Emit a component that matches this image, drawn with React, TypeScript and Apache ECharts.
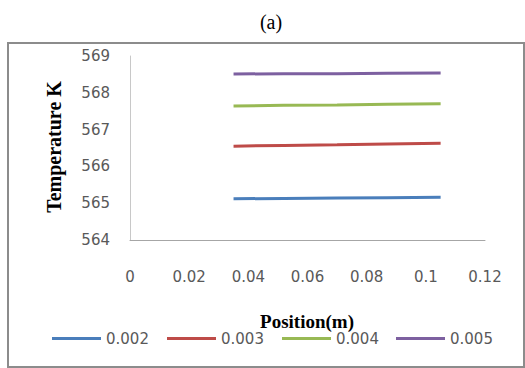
import React, { useEffect, useRef } from "react";
import * as echarts from "echarts";

const positions = [0.035, 0.052, 0.07, 0.087, 0.105];
const seriesNames = ["0.002", "0.003", "0.004", "0.005"];
const temp002 = [565.12, 565.13, 565.14, 565.15, 565.16];
const temp003 = [566.55, 566.57, 566.59, 566.61, 566.63];
const temp004 = [567.64, 567.66, 567.67, 567.69, 567.7];
const temp005 = [568.51, 568.52, 568.52, 568.53, 568.54];
const seriesColors = ["#4a7ebb", "#be4b48", "#98b954", "#7d60a0"];
const legendLeft = [52, 167, 282, 396];

export default function App() {
  const ref = useRef<HTMLDivElement>(null);
  useEffect(() => {
    if (!ref.current) return;
    const chart = echarts.init(ref.current, null, { renderer: "svg" });
    const all = [temp002, temp003, temp004, temp005];
    const labelStyle = {
      color: "#595959",
      fontFamily: "DejaVu Sans",
      fontSize: 15,
    };
    chart.setOption({
      animation: false,
      backgroundColor: "#ffffff",
      grid: { left: 130, right: 40, top: 56, bottom: 128 },
      xAxis: {
        type: "value",
        min: 0,
        max: 0.12,
        interval: 0.02,
        axisLine: { show: true, lineStyle: { color: "#a6a6a6", width: 1 } },
        axisTick: { show: false },
        splitLine: { show: false },
        axisLabel: { ...labelStyle, margin: 29, formatter: (v: number) => String(+v.toFixed(2)) },
      },
      yAxis: {
        type: "value",
        min: 564,
        max: 569,
        interval: 1,
        axisLine: { show: true, lineStyle: { color: "#c8c8c8", width: 1 } },
        axisTick: { show: false },
        splitLine: { show: false },
        axisLabel: { ...labelStyle, margin: 20 },
      },
      legend: seriesNames.map((n, i) => ({
        data: [{ name: n, icon: "rect" }],
        left: legendLeft[i],
        top: 331,
        padding: 0,
        itemWidth: 49,
        itemHeight: 3,
        textStyle: { ...labelStyle },
      })),
      series: all.map((vals, i) => ({
        name: seriesNames[i],
        type: "line",
        symbol: "none",
        smooth: false,
        lineStyle: { color: seriesColors[i], width: 3 },
        itemStyle: { color: seriesColors[i] },
        data: positions.map((p, j) => [p, vals[j]]),
      })),
      graphic: [
        {
          type: "rect",
          shape: { x: 8, y: 43, width: 516, height: 324 },
          style: { fill: "none", stroke: "#8c8c8c", lineWidth: 2 },
          silent: true,
        },
        {
          type: "text",
          x: 271,
          y: 22,
          style: {
            text: "(a)",
            font: "20px 'Liberation Serif'",
            fill: "#000",
            align: "center",
            verticalAlign: "middle",
          },
        },
        {
          type: "text",
          x: 307,
          y: 321,
          style: {
            text: "Position(m)",
            font: "bold 19px 'Liberation Serif'",
            fill: "#000",
            align: "center",
            verticalAlign: "middle",
          },
        },
        {
          type: "text",
          x: 54,
          y: 147,
          rotation: Math.PI / 2,
          style: {
            text: "Temperature K",
            font: "bold 20px 'Liberation Serif'",
            fill: "#000",
            align: "center",
            verticalAlign: "middle",
          },
        },
      ],
    });
    return () => chart.dispose();
  }, []);
  return (
    <div
      ref={ref}
      style={{ position: "fixed", left: 0, top: 0, width: 525, height: 368 }}
    />
  );
}
